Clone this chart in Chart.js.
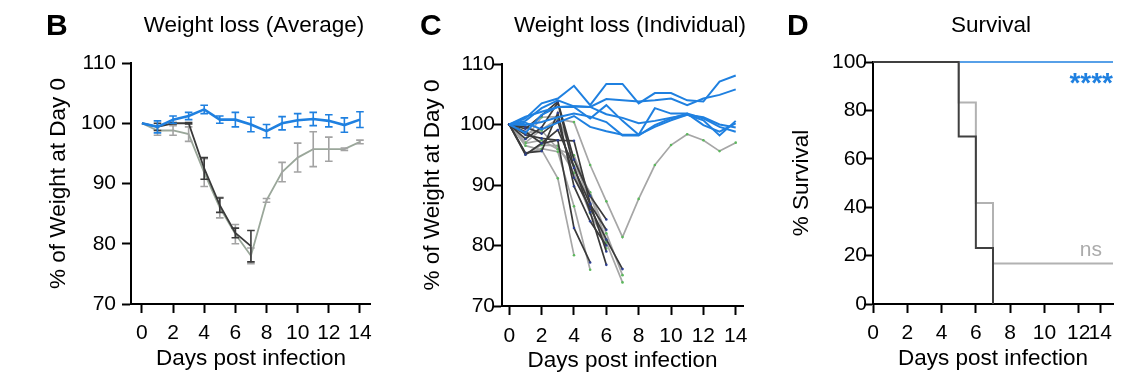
<!DOCTYPE html>
<html><head><meta charset="utf-8">
<script src="https://cdn.jsdelivr.net/npm/chart.js@4"></script>
<style>
html,body{margin:0;padding:0;background:#fff;}
#wrap{position:relative;width:1140px;height:380px;overflow:hidden;font-family:"Liberation Sans",Arial,Helvetica,sans-serif;color:#000;}
canvas{position:absolute;top:0;}
.lbl{position:absolute;top:9.6px;font-weight:bold;font-size:30px;line-height:30px;}
.ttl{position:absolute;top:14px;font-size:22.5px;line-height:22.5px;white-space:nowrap;transform:translateX(-50%);}
.note{position:absolute;white-space:nowrap;}
</style></head><body>
<div id="wrap">
<canvas id="cB" width="380" height="380" style="left:0px"></canvas>
<canvas id="cC" width="380" height="380" style="left:380px"></canvas>
<canvas id="cD" width="380" height="380" style="left:760px"></canvas>
<div class="lbl" style="left:46px">B</div>
<div class="lbl" style="left:420px">C</div>
<div class="lbl" style="left:787px">D</div>
<div class="ttl" style="left:254px">Weight loss (Average)</div>
<div class="ttl" style="left:630px">Weight loss (Individual)</div>
<div class="ttl" style="left:991px">Survival</div>
<div class="note" style="right:27px;top:69px;font-weight:bold;font-size:28px;line-height:28px;color:#1f80e0">****</div>
<div class="note" style="right:38px;top:238px;font-size:21px;line-height:21px;color:#ababab">ns</div>
</div>
<script>
// ---------- data ----------
const days = [0,1,2,3,4,5,6,7,8,9,10,11,12,13,14];
const weightTicks = [70,80,90,100,110];
const dayTicks = [0,2,4,6,8,10,12,14];
const dayTickLabels = ['0','2','4','6','8','10','12','14'];

// Panel B: group means and SEM
const blueMean = [100,99.4,100.6,101.2,102.3,100.6,100.6,99.8,98.7,100.0,100.5,100.7,100.4,99.7,100.6];
const blueSem  = [0,1.0,0.6,0.6,0.7,0.6,1.2,1.2,1.1,1.1,1.1,1.1,1.0,1.2,1.3];
const darkMean = [100,99.4,100.0,100.0,92.5,86.4,81.8,79.6];
const darkSem  = [0,0.6,0.1,0.1,1.8,1.2,0.8,2.6];
const grayMean = [100,98.8,98.8,98.2,91.8,86.0,81.6,78.0,87.2,91.9,94.3,95.7,95.7,95.7,96.9];
const graySem  = [0,0.8,0.8,1.2,2.3,1.7,1.6,1.3,0.3,1.6,2.4,2.9,2.0,0.2,0.3];

// Panel C: individual animals
const blueMouse1 = [100,101.0,103.5,104.3,106.4,103.2,106.7,106.7,103.5,105.2,105.2,104.0,103.8,107.1,108.1];
const blueMouse2 = [100,100.6,102.7,104.0,103.0,102.9,104.2,104.0,103.8,104.0,104.3,103.2,104.3,104.9,105.8];
const blueMouse3 = [100,98.6,101.6,102.9,102.9,101.0,103.2,100.6,98.3,102.7,101.8,101.8,101.0,99.6,98.8];
const blueMouse4 = [100,99.9,100.4,101.2,101.8,101.3,100.4,98.2,98.2,99.9,101.0,101.8,99.9,98.8,100.2];
const blueMouse5 = [100,100.3,99.2,100.3,101.4,99.6,98.9,98.3,98.3,99.6,100.7,101.6,100.7,98.2,100.6];
const blueMouse6 = [100,101.3,102.1,102.9,103.0,102.9,101.7,101.1,100.2,100.6,101.1,101.6,101.2,100.0,99.5];
const darkMouse1 = [100,98.3,97.7,97.4,82.9,77.2];
const darkMouse2 = [100,99.3,101.5,103.8,94.2,88.2,84.3];
const darkMouse3 = [100,97.6,99.5,103.6,92.8,86.8,82.6];
const darkMouse4 = [100,98.8,96.9,97.4,97.3,87.0,79.0];
const darkMouse5 = [100,95.0,96.9,99.1,93.0,85.5,76.8];
const darkMouse6 = [100,99.6,98.5,100.6,91.2,86.2,81.0,76.1];
const darkMouse7 = [100,95.3,95.6,101.9,89.8,84.0,80.0];
const grayMouse1 = [100,96.5,95.8,91.1,78.4];
const grayMouse2 = [100,95.2,96.0,95.5,86.5,76.0];
const grayMouse3 = [100,96.9,97.4,95.9,94.9,88.3,80.9];
const grayMouse4 = [100,97.7,101.2,101.3,94.5,86.8,79.5];
const grayMouse5 = [100,98.6,99.0,96.0,93.2,88.8,82.0,75.1];
const grayMouse6 = [100,95.1,96.6,96.5,92.0,85.3,80.5,73.9];
const grayMouse7 = [100,97.0,99.2,100.9,100.4,93.3,87.3,81.4,87.7,93.3,96.6,98.4,97.4,95.6,97.0];

// Panel D: Kaplan-Meier survival
const survivalTicks = [0,20,40,60,80,100];
const survDayTicks = [0,2,4,6,8,10,12,13.25];
const survDayTickLabels = ['0','2','4','6','8','10','12','14'];
const survTimesBlue = [0,14];
const survBlue = [100,100];
const survTimesGray = [0,5,6,7,14];
const survGray = [100,83.3,41.7,16.7,16.7];
const survTimesDark = [0,5,6,7];
const survDark = [100,69.2,23.1,0];

// ---------- styling ----------
const BLUE = '#1f80e0', DARK = '#3a3a3a', GRAY = '#a6a6a6', GRAYGREEN = '#9aa79a';
Chart.defaults.font.family = '"Liberation Sans", Arial, Helvetica, sans-serif';
Chart.defaults.color = '#000';

const pts = (xs, ys) => ys.map((v, i) => ({x: xs[i], y: v}));

const errorBarPlugin = {
  id: 'errorBars',
  afterDatasetDraw(chart, args) {
    const ds = chart.data.datasets[args.index];
    if (!ds.errorBars) return;
    const ctx = chart.ctx, yS = chart.scales.y;
    ctx.save();
    ctx.strokeStyle = ds.errorColor;
    ctx.lineWidth = 1.6;
    const cap = 3.8;
    args.meta.data.forEach((p, i) => {
      const e = ds.errorBars[i];
      if (!e) return;
      const v = ds.data[i].y;
      const y1 = yS.getPixelForValue(v + e), y2 = yS.getPixelForValue(v - e);
      ctx.beginPath();
      ctx.moveTo(p.x, y1); ctx.lineTo(p.x, y2);
      ctx.moveTo(p.x - cap, y1); ctx.lineTo(p.x + cap, y1);
      ctx.moveTo(p.x - cap, y2); ctx.lineTo(p.x + cap, y2);
      ctx.stroke();
    });
    ctx.restore();
  }
};

function makeChart(id, datasets, o) {
  return new Chart(document.getElementById(id), {
    type: 'line',
    data: { datasets },
    plugins: [errorBarPlugin],
    options: {
      responsive: false, animation: false, events: [],
      layout: { padding: { left: 0, right: o.padRight, top: o.padTop, bottom: 0 } },
      plugins: { legend: { display: false }, tooltip: { enabled: false } },
      elements: { line: { tension: 0, borderJoinStyle: 'miter' }, point: { radius: 0 } },
      scales: {
        x: {
          type: 'linear', min: o.xMin, max: o.xMax,
          afterBuildTicks: s => { s.ticks = o.xTicks.map(v => ({ value: v })); },
          afterFit: s => { s.height = o.xHeight; },
          ticks: { autoSkip: false, maxRotation: 0, minRotation: 0, padding: o.xTickPad,
                   font: { size: 21 }, color: '#000', callback: (v, i) => o.xLabels[i] },
          grid: { drawOnChartArea: false, drawTicks: true, tickLength: 9, tickWidth: 2, tickColor: '#000' },
          border: { display: true, color: '#000', width: 2 },
          title: { display: true, text: 'Days post infection', font: { size: 22.5 }, color: '#000',
                   padding: { top: 0, bottom: o.xTitlePad } }
        },
        y: {
          type: 'linear', min: o.yMin, max: o.yMax,
          afterBuildTicks: s => { s.ticks = o.yTicks.map(v => ({ value: v })); },
          afterFit: s => { s.width = o.yWidth; },
          ticks: { autoSkip: false, padding: o.yTickPad, font: { size: 21 }, color: '#000' },
          grid: { drawOnChartArea: false, drawTicks: true, tickLength: 9, tickWidth: 2, tickColor: '#000' },
          border: { display: true, color: '#000', width: 2 },
          title: { display: true, text: o.yTitle, font: { size: 22.5 }, color: '#000',
                   padding: { top: o.yTitlePad, bottom: 0 } }
        }
      }
    }
  });
}

// ---------- Panel B ----------
makeChart('cB', [
  { data: pts(days, blueMean), borderColor: BLUE, borderWidth: 2.6, errorBars: blueSem, errorColor: BLUE, clip: false },
  { data: pts(days, darkMean), borderColor: DARK, borderWidth: 1.8, errorBars: darkSem, errorColor: DARK, clip: false },
  { data: pts(days, grayMean), borderColor: GRAYGREEN, borderWidth: 1.8, errorBars: graySem, errorColor: '#a3a3a3', clip: false }
], { xMin: -0.7, xMax: 14.7, xTicks: dayTicks, xLabels: dayTickLabels, yMin: 70, yMax: 110, yTicks: weightTicks,
     yTitle: '% of Weight at Day 0', yWidth: 131, padRight: 8, padTop: 63, xHeight: 76,
     xTickPad: 8, yTickPad: 6, xTitlePad: 7.5, yTitlePad: 45 });

// ---------- Panel C ----------
const blueSet = [blueMouse1, blueMouse2, blueMouse3, blueMouse4, blueMouse5, blueMouse6];
const darkSet = [darkMouse1, darkMouse2, darkMouse3, darkMouse4, darkMouse5, darkMouse6, darkMouse7];
const graySet = [grayMouse1, grayMouse2, grayMouse3, grayMouse4, grayMouse5, grayMouse6, grayMouse7];
const cDatasets = [
  ...blueSet.map(m => ({ data: pts(days, m), borderColor: BLUE, borderWidth: 2, clip: false })),
  ...darkSet.map(m => ({ data: pts(days, m), borderColor: DARK, borderWidth: 1.7, clip: false,
                         pointRadius: 1.3, pointBorderWidth: 0, pointBackgroundColor: '#2c3e91' })),
  ...graySet.map(m => ({ data: pts(days, m), borderColor: GRAY, borderWidth: 1.7, clip: false,
                         pointRadius: 1.3, pointBorderWidth: 0, pointBackgroundColor: '#5cb85c' }))
];
makeChart('cC', cDatasets,
   { xMin: -0.45, xMax: 14.45, xTicks: dayTicks, xLabels: dayTickLabels, yMin: 70, yMax: 110, yTicks: weightTicks,
     yTitle: '% of Weight at Day 0', yWidth: 122, padRight: 17, padTop: 64, xHeight: 74,
     xTickPad: 8.4, yTickPad: -2, xTitlePad: 6, yTitlePad: 38.8 });

// ---------- Panel D ----------
makeChart('cD', [
  { data: pts(survTimesDark, survDark), stepped: true, borderColor: '#404040', borderWidth: 2, clip: false },
  { data: pts(survTimesGray, survGray), stepped: true, borderColor: '#b2b2b2', borderWidth: 2, clip: false },
  { data: pts(survTimesBlue, survBlue), stepped: true, borderColor: BLUE, borderWidth: 1.6, clip: false }
], { xMin: 0, xMax: 14, xTicks: survDayTicks, xLabels: survDayTickLabels, yMin: 0, yMax: 100, yTicks: survivalTicks,
     yTitle: '% Survival', yWidth: 113, padRight: 27, padTop: 62, xHeight: 76,
     xTickPad: 7.4, yTickPad: -3, xTitlePad: 7.5, yTitlePad: 27.8 });
</script>
</body></html>
